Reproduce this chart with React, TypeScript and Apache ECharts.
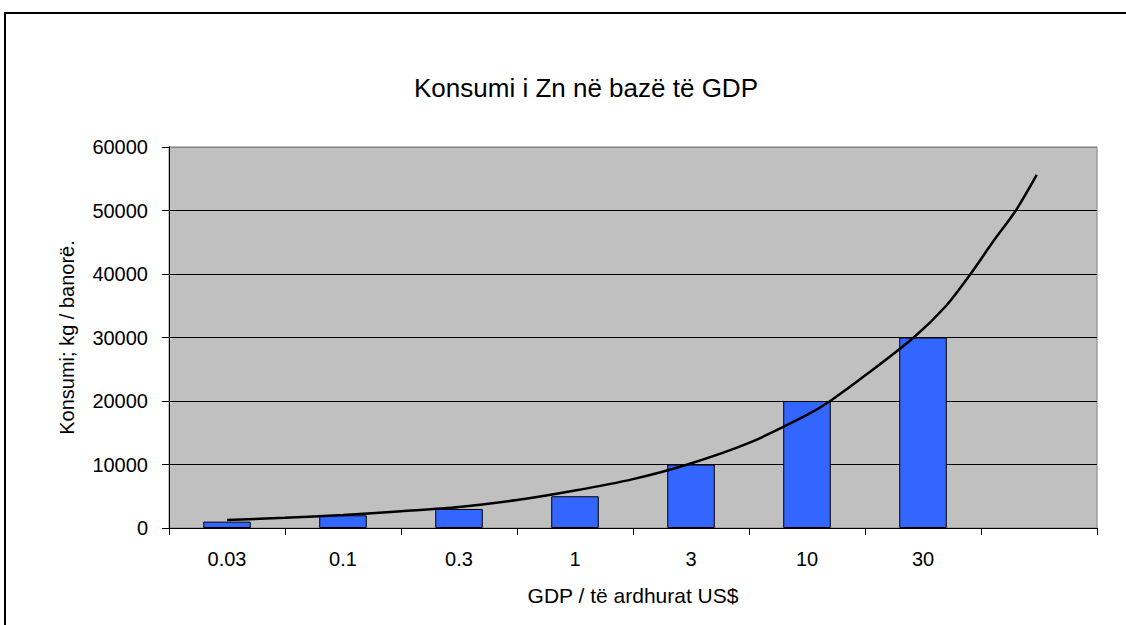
import React, { useEffect, useRef } from "react";
import * as echarts from "echarts";

const categories = ["0.03", "0.1", "0.3", "1", "3", "10", "30", ""];
const barValues = [1000, 2000, 3000, 5000, 10000, 20000, 30000, null];
// trend curve: [category position (1 = first slot), value]
const trendX = [1.0, 1.5, 2.0, 2.5, 3.0, 3.5, 4.0, 4.5, 4.97, 5.5, 6.0, 6.2, 6.5, 6.92, 7.2, 7.41, 7.6, 7.8, 7.98];
const trendY = [1250, 1600, 2050, 2650, 3300, 4400, 5900, 7700, 10000, 13400, 17800, 20000, 24000, 30000, 35000, 40000, 45000, 50000, 55600];
const yTicks = [0, 10000, 20000, 30000, 40000, 50000, 60000];

const FONT = "Liberation Sans, Arial, sans-serif";

export default function App() {
  const ref = useRef<HTMLDivElement>(null);
  useEffect(() => {
    if (!ref.current) return;
    const chart = echarts.init(ref.current, null, { renderer: "svg" });
    const trend = trendX.map((x, i) => [x, trendY[i]]);
    chart.setOption({
      animation: false,
      backgroundColor: "#ffffff",
      title: {
        text: "Konsumi i Zn në bazë të GDP",
        left: 581,
        top: 70,
        textAlign: "center",
        textStyle: { fontFamily: FONT, fontSize: 26, fontWeight: "normal", color: "#000" },
      },
      graphic: [
        {
          type: "rect",
          shape: { x: 5, y: 13, width: 1300, height: 800 },
          style: { fill: "none", stroke: "#000", lineWidth: 2 },
          silent: true,
        },
      ],
      grid: {
        left: 169,
        top: 147,
        right: 29,
        bottom: 97,
        show: true,
        backgroundColor: "#C0C0C0",
        borderColor: "#808080",
        borderWidth: 1,
      },
      xAxis: [
        {
          type: "category",
          data: categories,
          boundaryGap: true,
          axisLine: { show: true, lineStyle: { color: "#000", width: 1 } },
          axisTick: { show: true, length: 7, lineStyle: { color: "#000" } },
          axisLabel: { fontFamily: FONT, fontSize: 20, color: "#000", margin: 21, interval: 0 },
          name: "GDP / të ardhurat US$",
          nameLocation: "middle",
          nameGap: 57,
          nameTextStyle: { fontFamily: FONT, fontSize: 21, color: "#000" },
        },
        {
          type: "value",
          min: 0.5,
          max: 8.5,
          show: false,
        },
      ],
      yAxis: {
        type: "value",
        min: yTicks[0],
        max: yTicks[yTicks.length - 1],
        interval: yTicks[1] - yTicks[0],
        axisLine: { show: true, lineStyle: { color: "#000", width: 1 } },
        axisTick: { show: true, length: 7, lineStyle: { color: "#000" } },
        axisLabel: {
          fontFamily: FONT,
          fontSize: 20,
          color: "#000",
          margin: 21,
          formatter: (v: number) => String(v),
        },
        splitLine: {
          show: true,
          lineStyle: { color: ["#000", "#000", "#000", "#000", "#000", "#000", "#808080"], width: 1 },
        },
        name: "Konsumi; kg / banorë.",
        nameLocation: "middle",
        nameGap: 92,
        nameRotate: 90,
        nameTextStyle: { fontFamily: FONT, fontSize: 20, color: "#000" },
      },
      series: [
        {
          type: "bar",
          data: barValues,
          barWidth: "41%",
          itemStyle: { color: "#3366FF", borderColor: "#000", borderWidth: 1 },
        },
        {
          type: "line",
          xAxisIndex: 1,
          data: trend,
          smooth: 0.3,
          showSymbol: false,
          symbol: "none",
          lineStyle: { color: "#000", width: 2.5 },
          z: 5,
        },
      ],
    });
    return () => chart.dispose();
  }, []);
  return (
    <div
      ref={ref}
      style={{ position: "fixed", left: 0, top: 0, width: 1126, height: 625 }}
    />
  );
}
